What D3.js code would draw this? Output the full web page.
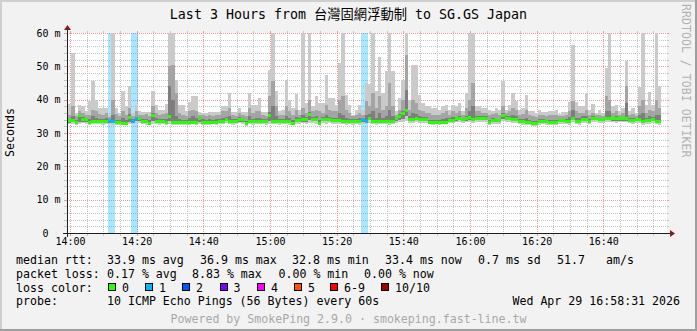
<!DOCTYPE html>
<html><head><meta charset="utf-8">
<script src="https://cdn.jsdelivr.net/npm/d3@7"></script>
<style>
html,body{margin:0;padding:0;background:#f2f2f2;}
svg{display:block;}
text{font-family:"DejaVu Sans Mono","Noto Sans CJK TC",monospace;white-space:pre;}
</style></head><body>
<svg id="chart" width="697" height="331"></svg>
<script>
// ---------------- data ----------------
const title = "Last 3 Hours from 台灣固網浮動制 to SG.GS Japan";
const yLabel = "Seconds";
const watermark = "RRDTOOL / TOBI OETIKER";
const yTicks = [0, 10, 20, 30, 40, 50, 60];
const yTickLabels = ["0  ", "10 m", "20 m", "30 m", "40 m", "50 m", "60 m"];
const xTickLabels = ["14:00","14:20","14:40","15:00","15:20","15:40","16:00","16:20","16:40"];
const graphStart = "2026-04-29T13:59:06";
const graphEnd   = "2026-04-29T16:59:06";
const firstSample = "2026-04-29T13:59:24";
const stepSeconds = 60;

const medianRtt = [
33.7,33.7,33.3,35.3,34.0,34.0,33.3,33.5,33.5,33.5,
33.5,33.5,33.8,33.5,33.2,33.2,33.0,33.0,34.8,33.5,
34.2,34.2,33.5,33.5,33.0,35.3,33.5,33.5,33.5,33.2,
35.0,33.2,33.2,33.2,33.2,33.3,33.3,33.3,33.3,34.2,
33.3,33.3,33.3,33.3,33.3,33.5,33.5,34.0,33.5,33.5,
33.5,34.0,34.0,32.9,33.5,33.5,33.5,33.5,33.5,33.5,
35.3,33.5,33.5,33.5,33.5,33.5,33.5,33.0,33.7,33.7,
34.0,34.0,35.5,34.0,34.0,33.0,34.0,34.0,34.0,33.7,
33.7,33.7,33.5,33.5,33.5,33.5,33.5,33.5,34.0,33.5,
34.5,33.5,33.5,33.5,33.5,33.5,33.5,33.5,34.2,35.0,
35.7,36.9,34.0,34.0,34.3,34.0,34.0,34.0,33.3,33.3,
33.3,33.3,33.3,33.3,33.8,33.8,34.3,34.3,34.0,34.2,
34.7,34.0,34.3,34.3,34.5,34.5,33.3,33.8,33.7,33.7,
35.3,34.5,34.5,34.0,34.0,33.5,33.5,33.3,33.3,32.8,
32.8,33.5,33.5,33.5,33.3,33.3,33.3,33.7,33.7,33.5,
33.5,34.5,33.5,33.5,34.0,34.0,33.5,34.3,34.3,34.0,
34.0,34.5,34.5,34.2,34.2,34.2,34.2,34.2,33.8,33.8,
34.0,34.0,33.5,33.7,33.7,34.0,33.5,33.4];

const pingMax = [
38.7,54.0,36.0,38.3,38.0,36.5,39.5,45.5,40.0,37.5,
37.5,37.5,35.5,62,37.5,36.0,42.7,38.0,44.2,36.0,
38.5,36.5,36.3,36.3,36.3,42.7,38.5,37.0,37.0,38.7,
62,62,46.0,38.5,38.5,36.5,39.2,41.2,41.2,36.3,
36.0,36.0,36.3,36.3,36.3,36.3,38.0,38.0,42.0,36.3,
36.3,37.5,36.3,36.3,42.0,38.5,38.5,40.5,36.3,36.3,
49.0,62,42.5,36.5,37.0,46.0,40.0,37.5,41.7,37.0,
62,39.0,62,38.0,41.0,39.0,39.0,47.3,40.5,40.5,
38.5,51.0,62,41.5,38.3,35.5,37.0,38.5,37.0,45.0,
44.7,62,42.5,52.7,42.0,48.7,62,48.5,36.7,40.5,
46.0,62,40.0,50.3,50.3,41.5,39.0,38.0,38.0,37.5,
37.5,37.0,38.0,38.5,37.0,38.5,38.0,39.0,36.5,42.0,
62,62,38.0,38.0,37.5,37.5,37.0,36.5,37.5,37.0,
45.5,37.0,38.5,42.0,39.7,37.0,37.5,41.3,36.7,36.5,
36.0,37.0,36.3,36.3,36.5,36.7,37.0,35.7,36.3,36.3,
39.3,56.3,39.3,38.0,38.0,42.0,37.0,38.7,36.0,37.0,
36.0,49.5,62,38.0,38.5,36.7,37.5,51.7,36.7,37.5,
36.0,43.7,62,38.5,42.3,38.5,62,44.0];

const ping9 = [
35.5,38.0,35.0,36.5,36.0,35.5,35.5,37.0,36.5,35.8,
35.5,36.0,34.8,40.0,35.8,35.0,36.5,35.5,37.5,35.0,
36.5,35.3,35.5,35.8,35.0,38.0,36.0,35.5,35.8,36.0,
50.0,50.5,42.0,36.0,35.5,35.0,36.5,37.0,36.5,35.3,
35.3,35.0,35.5,35.0,35.3,35.5,36.5,36.5,37.5,35.3,
35.0,36.0,35.5,35.0,37.5,36.0,36.5,36.5,35.3,35.0,
41.0,45.5,38.0,35.5,35.5,38.0,36.5,35.5,37.0,35.5,
37.5,36.0,40.0,36.5,37.0,36.5,36.0,38.5,37.0,36.5,
36.5,40.0,41.0,37.0,36.0,35.0,35.5,36.0,35.5,39.5,
38.0,42.0,37.5,41.0,37.0,38.0,45.0,38.0,35.5,37.0,
40.0,53.3,37.0,40.0,39.0,37.0,36.5,36.0,36.0,35.5,
35.5,35.5,36.0,36.5,35.5,36.5,36.0,36.5,35.5,37.5,
40.0,45.0,36.5,36.5,36.0,36.0,35.5,35.8,36.0,35.5,
38.0,36.0,36.5,37.5,37.0,35.5,35.8,37.0,35.5,35.0,
34.8,35.5,35.3,35.0,35.3,35.5,35.5,35.0,35.0,35.3,
36.5,39.5,36.5,36.0,36.0,37.0,35.5,36.0,35.3,35.5,
35.0,41.0,40.0,36.0,36.5,35.5,36.0,44.0,35.5,35.8,
35.0,38.0,40.0,36.0,37.0,36.5,40.0,37.5];

const ping8 = [
34.3,35.0,34.0,35.8,34.7,34.6,34.1,35.0,34.6,34.3,
34.2,34.5,34.3,35.5,34.0,34.0,34.5,34.0,35.6,34.2,
34.9,34.8,34.2,34.2,33.8,36.0,34.4,34.2,34.3,34.3,
44.0,40.0,35.0,34.2,34.0,34.0,34.4,35.0,34.6,34.8,
34.1,34.0,34.1,34.0,34.2,34.3,34.6,34.9,35.0,34.2,
34.1,34.7,34.6,33.7,35.0,34.3,34.5,34.6,34.2,34.1,
36.2,38.0,35.0,34.2,34.2,35.0,34.6,33.9,34.8,34.4,
35.5,34.7,36.2,34.8,35.0,34.0,34.7,35.5,34.9,34.5,
34.4,36.0,35.5,34.6,34.3,34.1,34.2,34.4,34.6,35.5,
35.6,36.5,34.6,36.0,34.6,35.0,37.0,35.0,34.8,35.7,
36.7,43.0,35.0,36.0,35.6,35.0,34.7,34.7,34.0,34.0,
34.0,34.0,34.3,34.5,34.4,34.8,34.9,35.0,34.6,35.2,
36.5,38.0,35.1,35.0,35.2,35.2,34.0,34.5,34.3,34.3,
36.0,35.1,35.2,35.3,35.0,34.2,34.3,34.5,34.0,33.6,
33.6,34.2,34.1,34.0,33.9,34.0,34.0,34.3,34.2,34.1,
34.8,37.0,34.6,34.5,35.0,35.0,34.3,35.0,34.9,34.6,
34.6,36.5,36.5,34.9,35.0,34.8,34.9,39.0,34.4,34.6,
34.5,35.5,36.0,34.6,35.0,34.9,35.5,35.5];

const ping2 = [
33.0,33.2,32.9,33.3,33.4,33.3,32.9,33.0,33.1,33.0,
33.0,33.1,33.1,33.0,32.8,32.9,32.7,32.7,33.4,33.1,
33.6,33.5,33.0,33.0,32.7,33.5,33.0,33.0,33.1,32.8,
33.5,32.8,32.9,32.8,32.9,32.9,32.9,33.0,33.0,33.4,
32.9,32.9,32.9,33.0,32.9,33.1,33.1,33.5,33.1,33.0,
33.1,33.4,33.4,32.6,33.1,33.0,33.1,33.1,33.0,33.0,
33.6,33.1,33.0,33.0,33.1,33.1,33.0,32.7,33.2,33.3,
33.4,33.4,34.0,33.5,33.5,32.7,33.5,33.5,33.5,33.3,
33.2,33.2,33.0,33.0,33.0,33.0,33.0,33.0,33.4,33.0,
33.8,33.0,33.0,33.0,33.1,33.0,33.0,33.0,33.6,34.0,
34.3,35.0,33.5,33.5,33.8,33.5,33.5,33.5,32.9,32.9,
32.9,32.9,32.9,32.9,33.3,33.3,33.7,33.8,33.5,33.7,
34.0,33.5,33.8,33.8,33.9,33.9,32.9,33.3,33.2,33.2,
34.2,34.0,34.0,33.5,33.5,33.0,33.0,32.9,32.9,32.4,
32.4,33.0,33.0,33.0,32.8,32.9,32.9,33.2,33.2,33.0,
33.0,33.9,33.0,33.0,33.5,33.5,33.0,33.8,33.8,33.5,
33.5,33.9,34.0,33.7,33.6,33.7,33.7,33.7,33.3,33.3,
33.5,33.5,33.0,33.2,33.2,33.5,33.0,33.0];

const pingMin = [
32.6,32.8,32.5,32.7,32.9,32.8,32.5,32.6,32.7,32.6,
32.5,32.6,32.7,32.5,32.4,32.5,32.3,32.4,32.8,32.7,
33.0,32.9,32.6,32.5,32.3,32.8,32.6,32.5,32.6,32.4,
32.7,32.4,32.5,32.4,32.5,32.5,32.4,32.6,32.5,32.8,
32.5,32.4,32.5,32.6,32.4,32.6,32.7,33.0,32.6,32.5,
32.6,32.9,32.8,32.2,32.6,32.5,32.6,32.7,32.6,32.5,
32.8,32.6,32.6,32.5,32.6,32.7,32.5,32.3,32.7,32.8,
32.9,32.8,33.0,32.9,32.8,32.3,32.9,32.8,33.0,32.7,
32.7,32.6,32.6,32.5,32.6,32.5,32.6,32.5,32.8,32.6,
33.0,32.6,32.5,32.6,32.7,32.6,32.5,32.6,33.0,33.2,
33.3,33.6,33.0,33.0,33.2,33.0,33.0,33.1,32.6,32.5,
32.6,32.5,32.6,32.6,32.9,32.9,33.2,33.3,33.0,33.2,
33.4,33.0,33.3,33.2,33.4,33.3,32.5,32.8,32.8,32.7,
33.5,33.4,33.3,33.0,32.9,32.6,32.5,32.4,32.5,32.0,
32.0,32.5,32.6,32.5,32.4,32.5,32.4,32.8,32.7,32.6,
32.5,33.4,32.6,32.5,33.0,32.9,32.6,33.2,33.3,33.0,
33.0,33.3,33.4,33.2,33.1,33.3,33.2,33.2,32.9,32.8,
33.0,33.1,32.5,32.8,32.7,33.0,32.6,32.5];

const lossTimes = ["14:11", "14:12", "14:18", "14:19", "15:27", "15:28"];
const lossCounts = [1, 1, 1, 1, 1, 1];

const medianStats = ["33.9 ms avg", "36.9 ms max", "32.8 ms min", "33.4 ms now", "0.7 ms sd", "51.7", "am/s"];
const lossStats = ["0.17 % avg", "8.83 % max", "0.00 % min", "0.00 % now"];
const lossLegendLabels = ["0", "1", "2", "3", "4", "5", "6-9", "10/10"];
const lossLegendColors = ["#26ff00", "#00b8ff", "#0059ff", "#7e00ff", "#ff00ff", "#ff5500", "#ff0000", "#a10000"];
const probeText = "10 ICMP Echo Pings (56 Bytes) every 60s";
const dateText = "Wed Apr 29 16:58:31 2026";
const footer = "Powered by SmokePing 2.9.0 · smokeping.fast-line.tw";

// ---------------- drawing ----------------
const W = 697, H = 331;
const L = 67, R = 667, T = 33, B = 233;
const svg = d3.select("#chart");

svg.append("rect").attr("width", W).attr("height", H).attr("fill", "#f2f2f2");
svg.append("rect").attr("x",0).attr("y",0).attr("width",W).attr("height",2).attr("fill","#cfcfcf");
svg.append("rect").attr("x",0).attr("y",0).attr("width",2).attr("height",H).attr("fill","#cfcfcf");
svg.append("rect").attr("x",0).attr("y",H-2).attr("width",W).attr("height",2).attr("fill","#9e9e9e");
svg.append("rect").attr("x",W-2).attr("y",0).attr("width",2).attr("height",H).attr("fill","#9e9e9e");

svg.append("rect").attr("x", L).attr("y", T).attr("width", R - L).attr("height", B - T).attr("fill", "#ffffff");

const parse = s => new Date(s);
const x = d3.scaleTime().domain([parse(graphStart), parse(graphEnd)]).range([L, R]);
const y = d3.scaleLinear().domain([0, 60]).range([B, T]);
const t0 = parse(firstSample).getTime();
const bStart = i => new Date(t0 + i * stepSeconds * 1000);
const fmt = d3.timeFormat("%H:%M");
const px = v => Math.round(v);

// grid
const grid = svg.append("g");
const minorY = d3.range(2, 60, 2).filter(v => v % 10 !== 0);
const majorY = yTicks.filter(v => v > 0);
const minorX = x.ticks(d3.timeMinute.every(5)).filter(d => d.getMinutes() % 20 !== 0);
const majorX = x.ticks(d3.timeMinute.every(20));
const GRID = "#c4c4c4", MGRID = "#eb9a9a";
function hline(v, col) {
  const yy = px(y(v)) + 0.5;
  grid.append("line").attr("x1", L).attr("x2", R).attr("y1", yy).attr("y2", yy)
    .attr("stroke", col).attr("stroke-dasharray", "1,1");
  grid.append("line").attr("x1", L - 3).attr("x2", L).attr("y1", yy).attr("y2", yy).attr("stroke", col);
  grid.append("line").attr("x1", R).attr("x2", R + 2).attr("y1", yy).attr("y2", yy).attr("stroke", col);
}
function vline(d, col) {
  const xx = px(x(d)) + 0.5;
  grid.append("line").attr("x1", xx).attr("x2", xx).attr("y1", T).attr("y2", B)
    .attr("stroke", col).attr("stroke-dasharray", "1,1");
  grid.append("line").attr("x1", xx).attr("x2", xx).attr("y1", B).attr("y2", B + 3).attr("stroke", col);
  grid.append("line").attr("x1", xx).attr("x2", xx).attr("y1", T - 2).attr("y2", T).attr("stroke", col);
}
minorY.forEach(v => hline(v, GRID));
minorX.forEach(d => vline(d, GRID));
majorY.forEach(v => hline(v, MGRID));
majorX.forEach(d => vline(d, MGRID));

svg.append("clipPath").attr("id", "plotclip").append("rect")
  .attr("x", L).attr("y", T).attr("width", R - L + 1).attr("height", B - T);
const plot = svg.append("g").attr("clip-path", "url(#plotclip)").attr("shape-rendering", "crispEdges");

const idx = d3.range(medianRtt.length);
const bx0 = i => px(x(bStart(i)));
const bx1 = i => px(x(bStart(i + 1)));

// loss background bands
const lossIdx = lossTimes.map(t => idx.find(i => fmt(bStart(i)) === t));
plot.selectAll(".lossbg").data(lossIdx).join("rect")
  .attr("x", i => bx0(i)).attr("width", i => bx1(i) - bx0(i))
  .attr("y", T).attr("height", B - T)
  .attr("fill", (i, k) => lossLegendColors[lossCounts[k]]).attr("fill-opacity", 0.34);

// smoke layers
const layers = [
  {lo: pingMin, hi: pingMax, col: "#cacaca"},
  {lo: ping2, hi: ping9, col: "#a4a4a4"},
  {lo: ping2, hi: ping8, col: "#7e7e7e"}
];
layers.forEach(Ly => {
  plot.append("g").selectAll("rect").data(idx).join("rect")
    .attr("x", i => bx0(i)).attr("width", i => bx1(i) - bx0(i))
    .attr("y", i => px(y(Ly.hi[i]))).attr("height", i => Math.max(1, px(y(Ly.lo[i])) - px(y(Ly.hi[i]))))
    .attr("fill", Ly.col);
});

// median band coloured by loss
const lossOf = i => { const k = lossIdx.indexOf(i); return k < 0 ? 0 : lossCounts[k]; };
plot.append("g").selectAll("rect").data(idx).join("rect")
  .attr("x", i => bx0(i)).attr("width", i => bx1(i) - bx0(i))
  .attr("y", i => px(y(medianRtt[i]) - 1.5)).attr("height", 3)
  .attr("fill", i => lossLegendColors[lossOf(i)]);

// axes lines + arrows
svg.append("line").attr("x1", L - 4).attr("x2", R + 4).attr("y1", B + 0.5).attr("y2", B + 0.5).attr("stroke", "#1f1f1f");
svg.append("line").attr("x1", L + 0.5).attr("x2", L + 0.5).attr("y1", B + 4).attr("y2", T - 4).attr("stroke", "#1f1f1f");
svg.append("path").attr("d", `M${R+3},${B-3}L${R+3},${B+4}L${R+8},${B+0.5}Z`).attr("fill", "#801f1f");
svg.append("path").attr("d", `M${L-3},${T-3}L${L+4},${T-3}L${L+0.5},${T-8}Z`).attr("fill", "#801f1f");

const xAxis = d3.axisBottom(x).tickValues(majorX).tickSize(0).tickPadding(5)
  .tickFormat((d, i) => xTickLabels[i]);
const gx = svg.append("g").attr("transform", `translate(0,${B})`).call(xAxis);
gx.select(".domain").remove();
gx.selectAll("text").attr("font-size", 10).attr("fill", "#000").attr("font-family", "DejaVu Sans Mono");

const yAxis = d3.axisLeft(y).tickValues(yTicks).tickSize(0).tickPadding(6.5)
  .tickFormat((d, i) => yTickLabels[i]);
const gy = svg.append("g").attr("transform", `translate(${L},0)`).call(yAxis);
gy.select(".domain").remove();
gy.selectAll("text").attr("font-size", 10).attr("fill", "#000").attr("font-family", "DejaVu Sans Mono");

svg.append("text").attr("x", 348.5).attr("y", 19).attr("text-anchor", "middle")
  .attr("font-size", 13.3).attr("fill", "#000").text(title);
svg.append("text").attr("transform", "translate(14,132.5) rotate(-90)").attr("text-anchor", "middle")
  .attr("font-size", 11.6).attr("fill", "#000").text(yLabel);
svg.append("text").attr("transform", "translate(681.5,4) rotate(90)")
  .attr("font-size", 11.6).attr("fill", "#b2b2b2").text(watermark);

// legend
const lg = svg.append("g").attr("font-size", 11.6).attr("fill", "#000");
const put = (tx, xx, yy, anchor) => lg.append("text").attr("x", xx).attr("y", yy)
  .attr("text-anchor", anchor || "start").text(tx);
put("median rtt:", 16, 264);
[107, 200, 292, 385, 478, 557, 606].forEach((xx, k) => put(medianStats[k], xx, 264));
put("packet loss:", 16, 278);
[107, 192, 278.5, 364].forEach((xx, k) => put(lossStats[k], xx, 278));
put("loss color:", 16, 291.5);
const boxX = [108, 145, 182, 219.5, 257, 294, 330, 381];
lossLegendLabels.forEach((lab, k) => {
  lg.append("rect").attr("x", px(boxX[k]) + 0.5).attr("y", 283.5).attr("width", 7).attr("height", 7)
    .attr("fill", lossLegendColors[k]).attr("stroke", "#000").attr("stroke-width", 1);
  put(lab, boxX[k] + 14, 291.5);
});
put("probe:", 16, 305.3);
put(probeText, 107, 305.3);
put(dateText, 680, 305.3, "end");
svg.append("text").attr("x", 348.5).attr("y", 322.5).attr("text-anchor", "middle")
  .attr("font-size", 11.6).attr("fill", "#a8a8a8").text(footer);
</script>
</body></html>
